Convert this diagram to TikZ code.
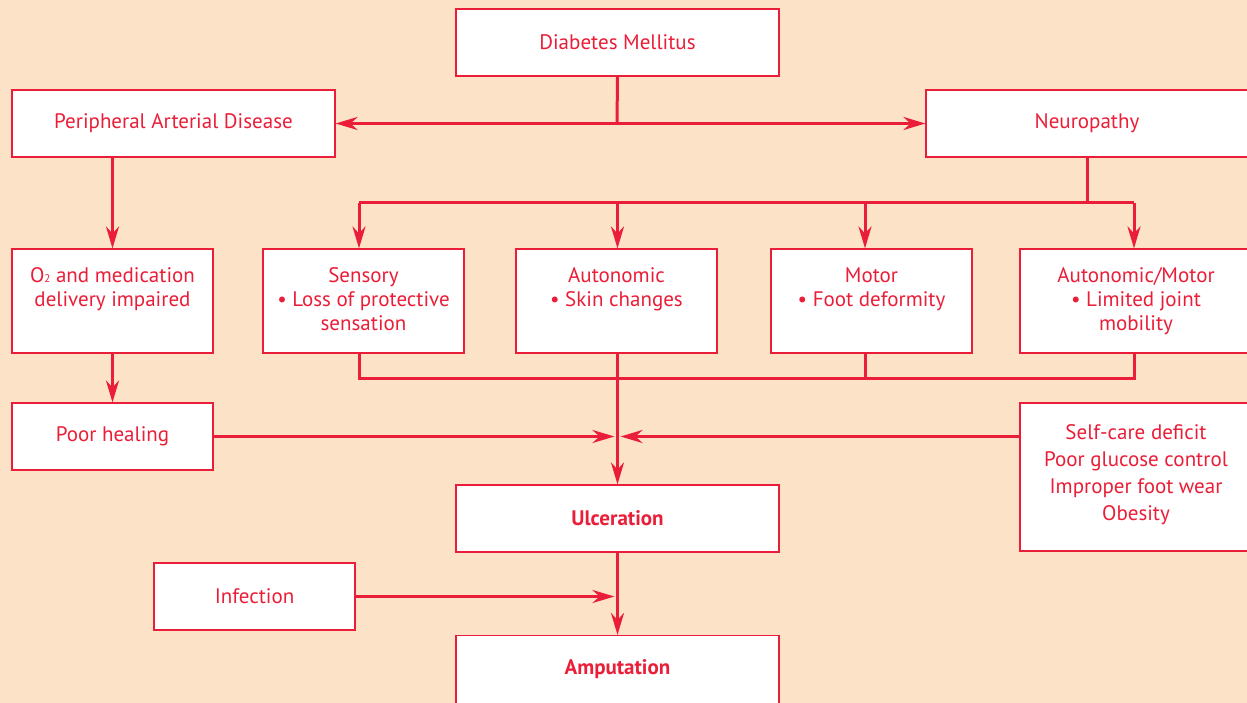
\documentclass[tikz,border=0pt]{standalone}
\usepackage{fontspec}
\setmainfont{PT Sans}
\usetikzlibrary{arrows.meta}

\definecolor{peach}{RGB}{252,227,200}
\definecolor{redline}{RGB}{234,30,56}

% text set at the top of the tall boxes
\newcommand{\boxtext}[3][17pt]{\parbox[c][#2][t]{196pt}{\centering\vspace*{#1}\strut #3}}

\tikzset{
	box/.style={draw=redline, line width=1.1pt, fill=white, text=redline, inner sep=0pt,
		minimum height=67pt, font=\fontsize{21}{24}\selectfont, align=center},
	wide/.style={box, minimum width=323pt},
	narrow/.style={box, minimum width=201pt},
	link/.style={draw=redline, line width=3pt},
	arr/.style={link, -{Stealth[length=22pt,width=13pt,inset=7pt]}},
}

\begin{document}
\begin{tikzpicture}[x=1pt,y=-1pt]
	\fill[peach] (0,0) rectangle (1247,703);
	\useasboundingbox (0,0) rectangle (1247,703);

	\node[wide] (dm) at (617.5,42.5) {Diabetes Mellitus};
	\node[wide] (pad) at (173.5,123.5) {Peripheral Arterial Disease};
	\node[wide, minimum width=322pt] (neuro) at (1087,123.5) {Neuropathy};

	\node[narrow, minimum height=104pt] (o2) at (112.5,301)
		{\boxtext{104pt}{O{\fontsize{11}{11}\selectfont 2} and medication\\delivery impaired}};
	\node[narrow, minimum height=104pt] (sens) at (363.5,301)
		{\boxtext{104pt}{Sensory\\• Loss of protective\\sensation}};
	\node[narrow, minimum height=104pt] (auto) at (616.5,301)
		{\boxtext{104pt}{Autonomic\\• Skin changes}};
	\node[narrow, minimum height=104pt] (motor) at (871.5,301)
		{\boxtext{104pt}{Motor\\• Foot deformity}};
	\node[narrow, minimum width=232pt, minimum height=104pt] (am) at (1136,301)
		{\boxtext{104pt}{Autonomic/Motor\\• Limited joint\\mobility}};

	\node[narrow] (heal) at (112.5,436.5) {Poor healing};
	\node[narrow, minimum width=232pt, minimum height=148pt] (self) at (1136,477)
		{\boxtext[20pt]{148pt}{Self-care deficit\\[3pt]Poor glucose control\\[3pt]Improper foot wear\\[3pt]Obesity}};

	\node[wide] (ulc) at (617.5,518.5) {\bfseries Ulceration};
	\node[narrow] (inf) at (254.5,596.5) {Infection};
	\node[wide, minimum height=68pt] (amp) at (617.5,669.5) {\bfseries Amputation};

	% branch points
	\coordinate (split) at (617,123.5);
	\coordinate (bus) at (0,203);
	\coordinate (sink) at (0,378);
	\coordinate (tapA) at (359,0);
	\coordinate (tapC) at (865,0);
	\coordinate (tapD) at (1134,0);

	\draw[link] (dm.south) -- (split);
	\draw[arr] (split) -- (pad.east);
	\draw[arr] (split) -- (neuro.west);

	\draw[link] (neuro.south) -- (neuro.south |- bus);
	\draw[link] (tapA |- bus) -- (tapD |- bus);
	\draw[arr] (tapA |- bus) -- (tapA |- sens.north);
	\draw[arr] (ulc.north |- bus) -- (ulc.north |- auto.north);
	\draw[arr] (tapC |- bus) -- (tapC |- motor.north);
	\draw[arr] (tapD |- bus) -- (tapD |- am.north);

	\draw[arr] (o2.north |- pad.south) -- (o2.north);
	\draw[arr] (o2.south) -- (heal.north);

	\draw[link] (tapA |- sens.south) |- (tapD |- sink) -- (tapD |- am.south);
	\draw[link] (tapC |- motor.south) -- (tapC |- sink);
	\draw[arr] (ulc.north |- auto.south) -- (ulc.north);

	\draw[arr, shorten >=3pt] (heal.east) -- (heal.east -| ulc.north);
	\draw[arr, shorten >=3pt] (self.west |- heal.east) -- (heal.east -| ulc.north);

	\draw[arr] (ulc.south) -- (amp.north);
	\draw[arr, shorten >=3pt] (inf.east) -- (inf.east -| amp.north);
\end{tikzpicture}
\end{document}
